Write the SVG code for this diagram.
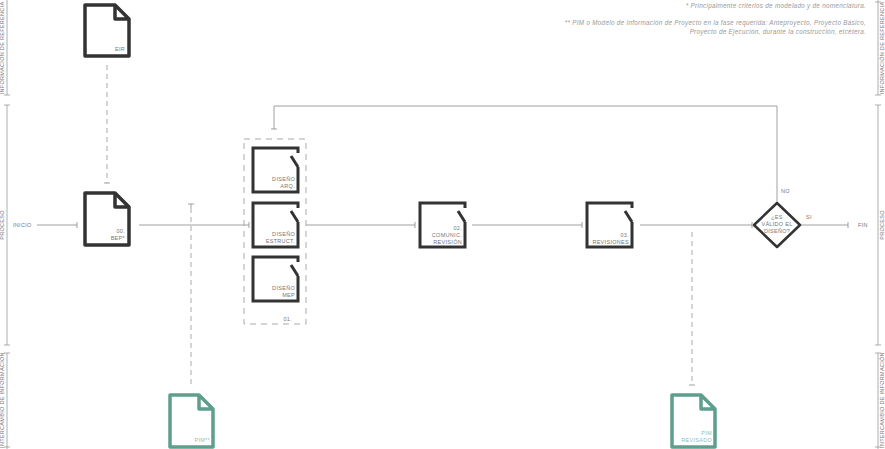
<svg xmlns="http://www.w3.org/2000/svg" width="885" height="449" viewBox="0 0 885 449">
<style>
text{font-family:"Liberation Sans",Arial,sans-serif;fill:#777;font-size:5.5px;letter-spacing:0.3px}
.fn{font-style:italic;font-size:6.3px;fill:#999;text-anchor:end}
.lab{text-anchor:end}
.doc{fill:none;stroke:#333;stroke-width:3.5;stroke-linejoin:round}
.pim{fill:none;stroke:#5e9e8e;stroke-width:3.5;stroke-linejoin:round}
.box{fill:none;stroke:#333;stroke-width:3}
.ln{fill:none;stroke:#888;stroke-width:0.8}
.dash{fill:none;stroke:#aaa;stroke-width:1;stroke-dasharray:5 4}
.lane{fill:none;stroke:#999;stroke-width:0.8}
.pimt{fill:#8fbdb1;text-anchor:end}
</style>
<g id="lanes">
<path class="lane" d="M7,0V95M4,95H10M7,105V345M4,105H10M4,345H10M7,353V449M4,353H10M4,447H10M878,0V95M875,95H881M878,105V345M875,105H881M875,345H881M878,353V449M875,353H881M875,447H881M875,2H881"/>
<text transform="translate(4,48) rotate(-90)" text-anchor="middle">INFORMACIÓN DE REFERENCIA</text>
<text transform="translate(4,225) rotate(-90)" text-anchor="middle">PROCESO</text>
<text transform="translate(4,400) rotate(-90)" text-anchor="middle">INTERCAMBIO DE INFORMACIÓN</text>
<text transform="translate(884,48) rotate(-90)" text-anchor="middle">INFORMACIÓN DE REFERENCIA</text>
<text transform="translate(884,225) rotate(-90)" text-anchor="middle">PROCESO</text>
<text transform="translate(884,400) rotate(-90)" text-anchor="middle">INTERCAMBIO DE INFORMACIÓN</text>
</g>
<g id="notes">
<text class="fn" x="866" y="8">* Principalmente criterios de modelado y de nomenclatura.</text>
<text class="fn" x="866" y="25">** PIM o Modelo de Información de Proyecto en la fase requerida: Anteproyecto, Proyecto Básico,</text>
<text class="fn" x="866" y="34">Proyecto de Ejecución, durante la construcción, etcétera.</text>
</g>
<g id="connectors">
<path class="dash" d="M107,65V183"/><path class="ln" d="M104,183H110"/>
<path class="dash" d="M191,208V386"/><path class="ln" d="M188,204H194M191,204V208"/>
<path class="dash" d="M692,232V385"/><path class="ln" d="M689,385H695"/>
<path class="ln" d="M37,225H77M77,222V228"/>
<path class="ln" d="M139,225H249M249,222V228"/>
<path class="ln" d="M306,225H415M415,222V228"/>
<path class="ln" d="M472,225H582M582,222V228"/>
<path class="ln" d="M640,225H752M752,222V228"/>
<path class="ln" d="M777,202V106H274V129M271,129H277"/>
<path class="ln" d="M800,225H848M848,222V228"/>
<text x="13" y="227">INICIO</text>
<text x="781" y="193">NO</text>
<text x="806" y="219">SI</text>
<text x="858" y="227">FIN</text>
</g>
<g id="eir"><path class="doc" d="M85,5H115L129,19V56H85Z M115,5V19H129"/><text class="lab" x="125" y="51">EIR</text></g>
<g id="bep"><path class="doc" d="M85,193H115L129,207V245H85Z M115,193V207H129"/><text class="lab" x="125" y="233">00.</text><text class="lab" x="125" y="240">BEP*</text></g>
<g id="pim"><path class="pim" d="M170,395H199L213,409V447H170Z M199,395V409H213"/><text class="pimt" x="210" y="442">PIM**</text></g>
<g id="pimrev"><path class="pim" d="M672,395H701L715,409V447H672Z M701,395V409H715"/><text class="pimt" x="712" y="435">PIM</text><text class="pimt" x="712" y="442">REVISADO</text></g>
<g id="grupo01"><rect x="244" y="139" width="62" height="185" fill="none" stroke="#aaa" stroke-width="1" stroke-dasharray="6 5"/><text class="lab" x="292" y="321">01.</text></g>
<g id="arq"><path class="box" d="M298,153V148H253V192H298V167M291,156L298,167"/><text class="lab" x="295" y="181">DISEÑO</text><text class="lab" x="295" y="188">ARQ.</text></g>
<g id="estruct"><path class="box" d="M298,208V203H253V247H298V222M291,211L298,222"/><text class="lab" x="295" y="236">DISEÑO</text><text class="lab" x="295" y="243">ESTRUCT.</text></g>
<g id="mep"><path class="box" d="M298,262V257H253V301H298V276M291,265L298,276"/><text class="lab" x="295" y="290">DISEÑO</text><text class="lab" x="295" y="297">MEP</text></g>
<g id="n02"><path class="box" d="M465,208V203H420V247H465V222M458,211L465,222"/><text class="lab" x="462" y="230">02.</text><text class="lab" x="462" y="237">COMUNIC.</text><text class="lab" x="462" y="244">REVISIÓN</text></g>
<g id="n03"><path class="box" d="M632,208V203H587V247H632V222M625,211L632,222"/><text class="lab" x="629" y="237">03.</text><text class="lab" x="629" y="244">REVISIONES</text></g>
<g id="decision"><path d="M777,203L800,225L777,247L754,225Z" fill="#fff" stroke="#333" stroke-width="2.5" stroke-linejoin="round"/><text x="777" y="219" text-anchor="middle">¿ES</text><text x="777" y="226" text-anchor="middle">VÁLIDO EL</text><text x="777" y="233" text-anchor="middle">DISEÑO?</text></g>
</svg>
